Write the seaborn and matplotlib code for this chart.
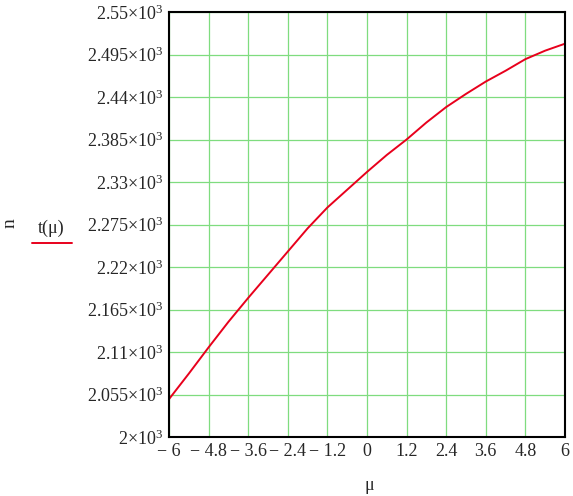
import numpy as np
import pandas as pd
import matplotlib
matplotlib.use("Agg")
from matplotlib import pyplot as plt
import seaborn as sns

# valores
mu = [-6.0, -5.4, -4.8, -4.2, -3.6, -3.0, -2.4, -1.8, -1.2, -0.6,
      0.0, 0.6, 1.2, 1.8, 2.4, 3.0, 3.6, 4.2, 4.8, 5.4, 6.0]
t_mu = [2049, 2082, 2116, 2149, 2180, 2210, 2240, 2270, 2297, 2320,
        2343, 2365, 2385, 2407, 2427, 2444, 2460, 2474, 2489, 2500, 2509]
xticks = [-6, -4.8, -3.6, -2.4, -1.2, 0, 1.2, 2.4, 3.6, 4.8, 6]
yticks = [2000, 2055, 2110, 2165, 2220, 2275, 2330, 2385, 2440, 2495, 2550]

sns.set_style("white")
plt.rcParams['font.family'] = ['Liberation Serif', 'DejaVu Serif']
plt.rcParams['mathtext.fontset'] = 'custom'
plt.rcParams['mathtext.rm'] = 'Liberation Serif'
plt.rcParams['mathtext.it'] = 'Liberation Serif'

df = pd.DataFrame({"mu": mu, "t": t_mu})

fig = plt.figure(figsize=(5.73, 4.96), dpi=100)
ax = fig.add_axes([169/573, 59/496, 396/573, 425/496])
sns.lineplot(data=df, x="mu", y="t", color="#e8001c", linewidth=1.4, ax=ax)

ax.set_xlim(-6, 6)
ax.set_ylim(2000, 2550)
ax.set_xticks(xticks)
ax.set_yticks(yticks)

def ylab(v):
    s = ("%.3f" % (v / 1000)).rstrip("0").rstrip(".")
    return s + r"$\times$10$^{3}$"

def xlab(v):
    s = ("%g" % abs(v))
    return ("\u2212 " + s) if v < 0 else s

ax.set_yticklabels([ylab(v) for v in yticks], fontsize=13)
ax.set_xticklabels([xlab(v) for v in xticks], fontsize=13)
ax.tick_params(length=0, pad=4)
ax.grid(True, color="#7fdc7f", linewidth=0.9)
for s in ax.spines.values():
    s.set_color("black")
    s.set_linewidth(1.5)
ax.set_xlabel("")
ax.set_ylabel("")

fig.text(369/573, 1 - 490/496, "\u03bc", fontsize=13, ha="center", va="baseline")
fig.text(10/573, 1 - 223/496, "n", fontsize=14, rotation=90, ha="center", va="center")
fig.text(51/573, 1 - 228/496, "t(\u03bc)", fontsize=13, ha="center", va="center")
fig.add_artist(plt.Line2D([32/573, 72/573], [1 - 243/496, 1 - 243/496],
                          color="#e8001c", linewidth=1.4))

fig.savefig("out.png", dpi=100)
